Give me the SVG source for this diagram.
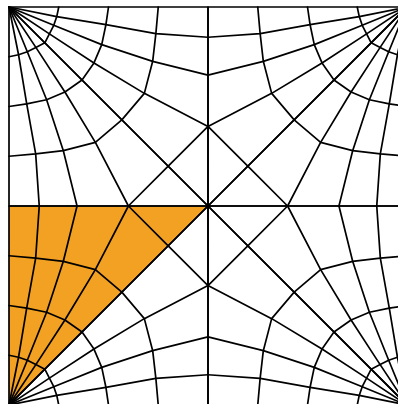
<svg xmlns="http://www.w3.org/2000/svg" width="398" height="404" viewBox="0 0 398 404">
<style>
.ln{fill:none;stroke:#000;stroke-width:1.7;stroke-linejoin:round;stroke-linecap:round}
.hl{fill:#F2A122;stroke:none}
</style>
<defs>
<g id="eighth">
<path class="ln" d="M-199,199V0H0L-199,199M-79.6,0L-39.8,39.8"/>
<polyline class="ln" points="-199,199 -189.45,151.24 -181.29,102.09 -172.33,52.14 -168.75,0"/>
<polyline class="ln" points="-199,199 -180.69,154.23 -161.39,106.27 -144.67,55.32 -130.94,0"/>
<polyline class="ln" points="-199,199 -172.14,158.6 -143.08,114.03 -112.63,63.68 -79.6,0"/>
<polyline class="ln" points="-199,149.25 -189.45,151.24 -180.69,154.23 -172.14,158.6 -163.18,163.18"/>
<polyline class="ln" points="-199,99.5 -181.29,102.09 -161.39,106.27 -143.08,114.03 -125.97,125.97"/>
<polyline class="ln" points="-199,49.75 -172.33,52.14 -144.67,55.32 -112.63,63.68 -86.17,86.17"/>
</g>
</defs>
<rect width="398" height="404" fill="#fff"/>
<g id="mesh" transform="translate(208,206)">
<polygon id="highlight" class="hl" points="-199,199 -199,0 0,0"/>
<use href="#eighth"/>
<use href="#eighth" transform="matrix(1,0,0,-1,0,0)"/>
<use href="#eighth" transform="matrix(-1,0,0,1,0,0)"/>
<use href="#eighth" transform="matrix(-1,0,0,-1,0,0)"/>
<use href="#eighth" transform="matrix(0,1,1,0,0,0)"/>
<use href="#eighth" transform="matrix(0,-1,-1,0,0,0)"/>
<use href="#eighth" transform="matrix(0,1,-1,0,0,0)"/>
<use href="#eighth" transform="matrix(0,-1,1,0,0,0)"/>
</g>
</svg>
